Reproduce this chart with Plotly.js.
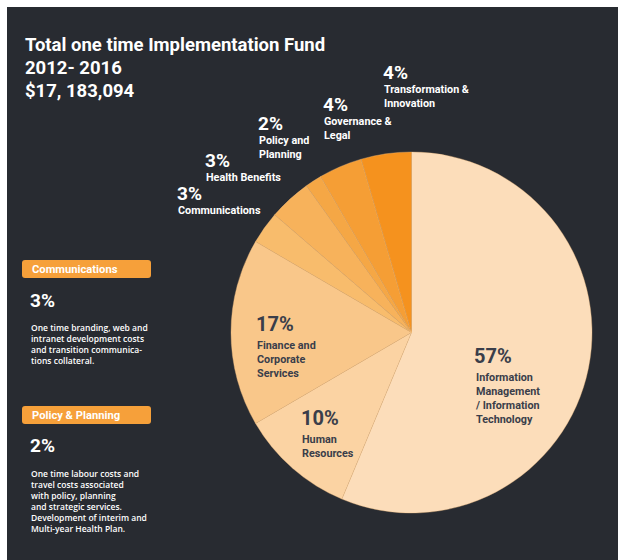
<!DOCTYPE html>
<html>
<head>
<meta charset="utf-8">
<script src="https://cdn.plot.ly/plotly-3.0.1.min.js"></script>
<style>html,body{margin:0;padding:0;background:#fff;}#chart{width:618px;height:560px;}</style>
</head>
<body>
<div id="chart"></div>
<script>
// ---- data ----
var categories = ["Information Management / Information Technology", "Human Resources", "Finance and Corporate Services", "Communications", "Health Benefits", "Policy and Planning", "Governance & Legal", "Transformation & Innovation"];
var labelLines = ["Information<br>Management<br>/ Information<br>Technology", "Human<br>Resources", "Finance and<br>Corporate<br>Services", "Communications", "Health Benefits", "Policy and<br>Planning", "Governance &<br>Legal", "Transformation &<br>Innovation"];
var values = [56.3, 10.3, 16.8, 2.9, 3.8, 1.5, 3.9, 4.5];
// percentages as printed on the chart
var pctLabels = ["57%", "10%", "17%", "3%", "3%", "2%", "4%", "4%"];
var sliceColors = ["#FCDDBA", "#FBD3A3", "#F9C78A", "#F8BC6C", "#F7B25B", "#F5A745", "#F59E35", "#F5921E"];
var titleLines = ["Total one time Implementation Fund", "2012- 2016", "$17, 183,094"];
var sideHeads = ["Communications", "Policy & Planning"];
var sidePct = ["3%", "2%"];
var sideTexts = [
  "One time branding, web and<br>intranet development costs<br>and transition communica-<br>tions collateral.",
  "One time labour costs and<br>travel costs associated<br>with policy, planning<br>and strategic services.<br>Development of interim and<br>Multi-year Health Plan."
];

// ---- layout helpers ----
var W = 618, H = 560;
function px(x){ return x / W; }
function py(y){ return 1 - y / H; }
var BG = "#282B31", DARK = "#3A3E4A";
var FAM = "Roboto, 'DejaVu Sans', sans-serif";

// label anchor positions (pixel, centre of percentage line)
var labelPos = [[474, 356], [301, 418], [256, 324], [177, 193], [205, 160], [258, 123], [323, 104], [383, 72]];
var insideLabel = [true, true, true, false, false, false, false, false];

var annotations = [];
titleLines.forEach(function(t, i){
  annotations.push({x: px(23), y: py(45 + i * 23), xref: "paper", yref: "paper", xanchor: "left", yanchor: "middle",
    text: t, showarrow: false, font: {family: FAM, size: 18.5, color: "#fff", weight: 700}});
});
for (var i = 0; i < values.length; i++) {
  var c = insideLabel[i] ? DARK : "#fff";
  var big = insideLabel[i] ? 20 : 19;
  annotations.push({x: px(labelPos[i][0] - 2), y: py(labelPos[i][1]), xref: "paper", yref: "paper", xanchor: "left", yanchor: "middle",
    text: pctLabels[i], showarrow: false, font: {family: FAM, size: big, color: c, weight: 700}});
  annotations.push({x: px(labelPos[i][0] - 1), y: py(labelPos[i][1] + 9 + (insideLabel[i] ? 4 : 0)), xref: "paper", yref: "paper", xanchor: "left", yanchor: "top", align: "left",
    text: labelLines[i], showarrow: false, font: {family: FAM, size: 10.8, color: c, weight: 700}});
}
var boxY = [260, 406];
var shapes = [{type: "rect", xref: "paper", yref: "paper", x0: px(7), x1: 1, y0: 0, y1: py(7), fillcolor: BG, line: {width: 0}, layer: "below"}];
function roundRect(x0, y0, x1, y1, r){
  var X = function(v){ return px(v); }, Y = function(v){ return py(v); };
  return "M" + X(x0 + r) + "," + Y(y0) + " L" + X(x1 - r) + "," + Y(y0) + " Q" + X(x1) + "," + Y(y0) + " " + X(x1) + "," + Y(y0 + r) +
    " L" + X(x1) + "," + Y(y1 - r) + " Q" + X(x1) + "," + Y(y1) + " " + X(x1 - r) + "," + Y(y1) +
    " L" + X(x0 + r) + "," + Y(y1) + " Q" + X(x0) + "," + Y(y1) + " " + X(x0) + "," + Y(y1 - r) +
    " L" + X(x0) + "," + Y(y0 + r) + " Q" + X(x0) + "," + Y(y0) + " " + X(x0 + r) + "," + Y(y0) + " Z";
}
sideHeads.forEach(function(h, k){
  var y0 = boxY[k];
  shapes.push({type: "path", xref: "paper", yref: "paper", path: roundRect(22, y0, 151, y0 + 18, 3), fillcolor: "#F6A03A", line: {width: 0}, layer: "below"});
  annotations.push({x: px(30), y: py(y0 + 9), xref: "paper", yref: "paper", xanchor: "left", yanchor: "middle",
    text: h, showarrow: false, font: {family: FAM, size: 11.2, color: "#fff", weight: 700}});
  annotations.push({x: px(28), y: py(y0 + 40), xref: "paper", yref: "paper", xanchor: "left", yanchor: "middle",
    text: sidePct[k], showarrow: false, font: {family: FAM, size: 19, color: "#fff", weight: 700}});
  annotations.push({x: px(29), y: py(y0 + 60), xref: "paper", yref: "paper", xanchor: "left", yanchor: "top", align: "left",
    text: sideTexts[k], showarrow: false, font: {family: "'Open Sans', sans-serif", size: 8.5, color: "#fff", weight: 600}});
});

var trace = {
  type: "pie", labels: categories, values: values, sort: false, direction: "clockwise", rotation: 0,
  marker: {colors: sliceColors, line: {color: "rgba(245,190,130,0.6)", width: 0.6}},
  textinfo: "none", hoverinfo: "label+percent", showlegend: false,
  domain: {x: [px(411.5 - 180.5), px(411.5 + 180.5)], y: [py(513), py(152)]}
};
var layout = {
  width: W, height: H, margin: {l: 0, r: 0, t: 0, b: 0},
  paper_bgcolor: "#ffffff", showlegend: false,
  shapes: shapes, annotations: annotations
};
Plotly.newPlot("chart", [trace], layout, {displayModeBar: false, staticPlot: true});
</script>
</body>
</html>
